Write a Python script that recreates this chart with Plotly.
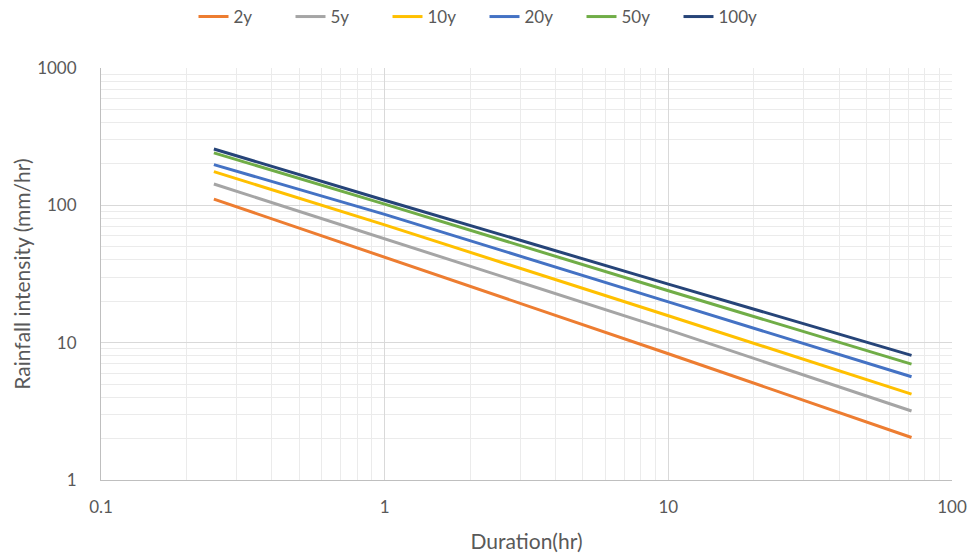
import plotly.graph_objects as go

duration = [0.25, 1, 10, 72]
series_names = ["2y", "5y", "10y", "20y", "50y", "100y"]
i_2y = [111, 42, 8.3, 2.04]
i_5y = [143, 57, 12.4, 3.18]
i_10y = [176, 72, 15.7, 4.22]
i_20y = [198, 86, 19.8, 5.65]
i_50y = [241, 102, 23.9, 6.98]
i_100y = [257, 109, 26.7, 8.08]
x_ticks = [0.1, 1, 10, 100]
x_ticklabels = ["0.1", "1", "10", "100"]
y_ticks = [1, 10, 100, 1000]
y_ticklabels = ["1", "10", "100", "1000"]

colors = ["#ED7D31", "#A5A5A5", "#FFC000", "#4472C4", "#70AD47", "#264478"]
values = [i_2y, i_5y, i_10y, i_20y, i_50y, i_100y]

fig = go.Figure()
for name, vals, c in zip(series_names, values, colors):
    fig.add_trace(go.Scatter(x=duration, y=vals, mode="lines", name=name,
                             line=dict(color=c, width=3)))

font_family = "Lato, 'Open Sans', sans-serif"
txt = "#595959"

x_minor = [m * 10 ** e for e in range(-1, 2) for m in range(2, 10)]
y_minor = [m * 10 ** e for e in range(0, 3) for m in range(2, 10)]

fig.update_layout(
    width=969, height=553,
    margin=dict(l=101, r=17, t=68, b=73, autoexpand=False),
    paper_bgcolor="white", plot_bgcolor="white",
    font=dict(family=font_family, color=txt, size=17),
    showlegend=True,
    legend=dict(orientation="h", xref="container", x=0.5, xanchor="center",
                y=1 - 17 / 553, yanchor="middle",
                yref="container", entrywidth=52, entrywidthmode="pixels",
                font=dict(size=17, color=txt)),
    xaxis=dict(type="log", range=[-1, 2], tickvals=x_ticks, ticktext=x_ticklabels,
               showgrid=True, gridcolor="#d9d9d9", gridwidth=1,
               showline=True, linecolor="#bfbfbf", mirror=False, automargin=False,
               ticks="", ticklabelstandoff=12, zeroline=False,
               tickfont=dict(size=17, color=txt),
               minor=dict(tickvals=x_minor, showgrid=True, gridcolor="#ebebeb", gridwidth=1),
               title=dict(text="Duration(hr)", font=dict(size=21, color=txt), standoff=19)),
    yaxis=dict(type="log", range=[0, 3], tickvals=y_ticks, ticktext=y_ticklabels,
               showgrid=True, gridcolor="#d9d9d9", gridwidth=1,
               showline=True, linecolor="#bfbfbf", automargin=False,
               ticks="", ticklabelstandoff=20, zeroline=False,
               tickfont=dict(size=17, color=txt),
               minor=dict(tickvals=y_minor, showgrid=True, gridcolor="#ebebeb", gridwidth=1),
               title=dict(text="Rainfall intensity (mm/hr)", font=dict(size=21, color=txt), standoff=0)),
)

fig.write_html("out.html", config={"displayModeBar": False},
               post_script="document.body.style.margin='0';document.body.style.overflow='hidden';")
